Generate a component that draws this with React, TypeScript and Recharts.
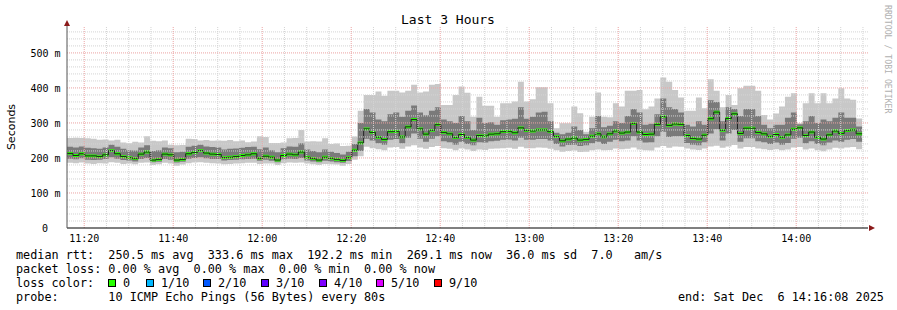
import React from 'react';
import { ComposedChart, Area, Line, XAxis, YAxis, ReferenceLine } from 'recharts';

// one sample every 80 s, 3 hours ending Sat Dec 6 14:16:08 2025
const STEP = 80;
const SPAN = 10800;
const Y_MAX = 574;

// median rtt (ms) per step
const median = [
  213, 207, 212, 206, 206, 204, 209, 221, 212, 204, 201, 198, 211, 217, 194, 196, 211, 209, 194, 196, 212, 216, 221, 214, 211, 210, 201, 202, 204, 207, 209, 212, 199, 205,
  202, 194, 207, 211, 209, 217, 202, 198, 194, 202, 199, 196, 193, 201, 222, 243, 283, 273, 259, 253, 275, 276, 260, 289, 310, 283, 268, 279, 295, 273, 269, 258, 267, 258,
  251, 264, 263, 268, 269, 275, 276, 272, 286, 278, 277, 280, 280, 275, 261, 249, 254, 257, 251, 253, 262, 269, 260, 269, 277, 271, 274, 298, 274, 267, 268, 296, 318, 293,
  297, 296, 264, 256, 254, 265, 312, 331, 279, 313, 326, 270, 285, 285, 273, 269, 261, 267, 259, 266, 282, 286, 264, 274, 259, 254, 266, 277, 270, 278, 280, 269,
];

// fastest ping per step
const minRtt = [
  186, 185, 187, 184, 183, 185, 184, 188, 186, 183, 184, 182, 186, 187, 180, 182, 186, 184, 178, 181, 185, 187, 188, 186, 185, 184, 182, 183, 184, 185, 186, 186, 183, 184,
  184, 180, 185, 187, 186, 187, 184, 182, 180, 183, 182, 181, 178, 183, 195, 205, 232, 228, 225, 222, 230, 231, 226, 233, 236, 230, 226, 231, 234, 228, 226, 222, 227, 224,
  220, 224, 223, 226, 227, 228, 229, 226, 232, 228, 228, 230, 229, 226, 222, 218, 220, 221, 217, 218, 222, 224, 222, 223, 227, 225, 226, 230, 224, 222, 221, 230, 234, 229,
  233, 232, 227, 224, 223, 227, 233, 235, 229, 233, 237, 227, 231, 231, 227, 225, 223, 225, 222, 224, 230, 231, 224, 227, 222, 219, 224, 229, 227, 230, 231, 225,
];

// lower edge of the dense smoke
const lowSmoke = [
  198, 196, 199, 195, 194, 195, 197, 202, 198, 194, 193, 190, 197, 200, 188, 189, 197, 195, 187, 189, 198, 200, 202, 199, 197, 197, 193, 194, 195, 196, 197, 198, 192, 195,
  192, 188, 196, 198, 197, 200, 193, 190, 188, 192, 190, 188, 186, 191, 205, 220, 255, 250, 242, 238, 252, 254, 242, 258, 270, 255, 246, 255, 262, 248, 245, 238, 246, 240,
  236, 245, 244, 248, 249, 252, 253, 250, 258, 252, 252, 254, 254, 250, 240, 233, 237, 238, 234, 236, 242, 246, 240, 246, 252, 248, 250, 262, 250, 244, 245, 262, 275, 260,
  262, 262, 243, 238, 236, 245, 270, 282, 250, 270, 280, 246, 256, 256, 248, 245, 240, 244, 238, 243, 255, 258, 242, 248, 240, 236, 244, 250, 246, 252, 254, 246,
];

// upper edge of the dense smoke
const highSmoke = [
  232, 230, 233, 229, 228, 226, 230, 238, 232, 226, 222, 221, 230, 236, 220, 222, 230, 228, 216, 218, 232, 235, 238, 233, 231, 230, 224, 226, 227, 229, 231, 232, 225, 230,
  222, 216, 228, 233, 232, 242, 224, 220, 216, 224, 218, 214, 210, 218, 240, 300, 340, 330, 310, 305, 325, 330, 318, 335, 350, 330, 322, 335, 345, 310, 305, 300, 320, 305,
  280, 315, 300, 302, 295, 308, 310, 312, 345, 312, 318, 330, 332, 305, 272, 268, 272, 290, 280, 268, 285, 320, 288, 292, 305, 300, 320, 340, 330, 295, 298, 325, 370, 345,
  340, 330, 295, 290, 305, 295, 365, 360, 305, 345, 340, 320, 340, 340, 320, 295, 285, 295, 295, 315, 330, 296, 305, 320, 300, 310, 305, 315, 330, 315, 315, 290,
];

// slowest ping per step
const maxRtt = [
  257, 258, 257, 256, 255, 252, 253, 250, 252, 244, 242, 246, 244, 262, 249, 248, 250, 238, 236, 237, 255, 254, 250, 251, 249, 250, 249, 251, 248, 250, 245, 247, 262, 260,
  243, 243, 244, 256, 257, 280, 247, 248, 247, 256, 240, 241, 234, 235, 261, 335, 380, 380, 390, 378, 392, 392, 387, 392, 409, 387, 390, 409, 411, 351, 351, 380, 404, 386,
  318, 375, 349, 349, 318, 356, 356, 361, 418, 361, 368, 402, 402, 356, 285, 299, 299, 347, 328, 275, 318, 387, 318, 316, 356, 347, 392, 392, 394, 339, 347, 370, 430, 418,
  394, 373, 335, 335, 373, 342, 425, 392, 345, 380, 351, 399, 406, 406, 392, 323, 310, 327, 347, 375, 385, 299, 356, 385, 356, 385, 356, 370, 399, 370, 366, 313,
];

// seconds after 11:16:08
const xTicks = [232, 1432, 2632, 3832, 5032, 6232, 7432, 8632, 9832];
const xTickLabels = ['11:20', '11:40', '12:00', '12:20', '12:40', '13:00', '13:20', '13:40', '14:00'];
const yTicks = [0, 100, 200, 300, 400, 500];
const yTickLabels = ['0', '100 m', '200 m', '300 m', '400 m', '500 m'];

const lossColors = [
  { label: '0', color: '#26ff00' },
  { label: '1/10', color: '#00b8ff' },
  { label: '2/10', color: '#0059ff' },
  { label: '3/10', color: '#5e00ff' },
  { label: '4/10', color: '#7e00ff' },
  { label: '5/10', color: '#dd00ff' },
  { label: '9/10', color: '#ff0000' },
];
const lossBoxX = [108, 146, 203, 261, 319, 376, 434];

const legendLines = [
  'median rtt:  250.5 ms avg  333.6 ms max  192.2 ms min  269.1 ms now  36.0 ms sd  7.0   am/s',
  'packet loss: 0.00 % avg  0.00 % max  0.00 % min  0.00 % now',
  'loss color:',
  'probe:       10 ICMP Echo Pings (56 Bytes) every 80s',
];

const rows = median.map((m, i) => ({
  t: i * STEP,
  median: m,
  min: minRtt[i],
  low: lowSmoke[i],
  high: highSmoke[i],
  max: maxRtt[i],
}));
// close the last step
rows.push({ ...rows[rows.length - 1], t: rows.length * STEP });

const yMinor: number[] = [];
for (let v = 20; v < Y_MAX; v += 20) if (v % 100 !== 0) yMinor.push(v);
const xMinor: number[] = [];
for (let k = 1; 232 + k * 300 < SPAN; k++) if (k % 4 !== 0) xMinor.push(232 + k * 300);

const MONO = '"DejaVu Sans Mono", monospace';
const MINOR = '#d4d4d4';
const MAJOR = '#eba3a3';

const XTick = (props: any) => {
  const i = xTicks.indexOf(props.payload.value);
  return (
    <text x={props.x} y={props.y + 13.5} textAnchor="middle" fontFamily={MONO} fontSize={10} fill="#000">
      {xTickLabels[i]}
    </text>
  );
};

const YTick = (props: any) => {
  const i = yTicks.indexOf(props.payload.value);
  const x = props.payload.value === 0 ? props.x - 19 : props.x - 6.5;
  return (
    <text x={x} y={props.y + 3.6} textAnchor="end" fontFamily={MONO} fontSize={10} fill="#000">
      {yTickLabels[i]}
    </text>
  );
};

export default function App() {
  return (
    <div style={{ position: 'absolute', left: 0, top: 0, width: 897, height: 310, background: '#fff', overflow: 'hidden' }}>
      <ComposedChart width={897} height={310} data={rows} margin={{ top: 27, right: 29, bottom: 66, left: 0 }}>
        <XAxis
          dataKey="t"
          type="number"
          domain={[0, SPAN]}
          ticks={xTicks}
          tick={XTick}
          tickLine={false}
          tickSize={0}
          tickMargin={0}
          height={16}
          axisLine={{ stroke: '#000' }}
          allowDataOverflow
        />
        <YAxis
          type="number"
          domain={[0, Y_MAX]}
          ticks={yTicks}
          tick={YTick}
          tickLine={false}
          tickSize={0}
          tickMargin={0}
          width={67}
          axisLine={{ stroke: '#555' }}
          allowDataOverflow
        />
        <Area type="stepAfter" dataKey={(d: any) => [d.min, d.max]} stroke="none" fill="#c8c8c8" fillOpacity={1} dot={false} activeDot={false} isAnimationActive={false} />
        <Area type="stepAfter" dataKey={(d: any) => [d.low, d.high]} stroke="none" fill="#7a7a7a" fillOpacity={1} dot={false} activeDot={false} isAnimationActive={false} />
        <Line type="stepAfter" dataKey="median" stroke="#202020" strokeWidth={1} dot={false} activeDot={false} isAnimationActive={false} />
        <Area type="stepAfter" dataKey={(d: any) => [d.median - 4, d.median + 4]} stroke="none" fill="#26ff00" fillOpacity={1} dot={false} activeDot={false} isAnimationActive={false} />
        {yMinor.map((v) => (
          <ReferenceLine key={'ym' + v} y={v} stroke={MINOR} strokeDasharray="1 1" />
        ))}
        {xMinor.map((v) => (
          <ReferenceLine key={'xm' + v} x={v} stroke={MINOR} strokeDasharray="1 1" />
        ))}
        {yTicks.slice(1).map((v) => (
          <ReferenceLine key={'yM' + v} y={v} stroke={MAJOR} strokeDasharray="1 1" />
        ))}
        {xTicks.map((v) => (
          <ReferenceLine key={'xM' + v} x={v} stroke={MAJOR} strokeDasharray="1 1" />
        ))}
      </ComposedChart>
      <svg width={897} height={310} style={{ position: 'absolute', left: 0, top: 0, pointerEvents: 'none' }}>
        <line x1={67} y1={27} x2={67} y2={22} stroke="#555" />
        <polygon points="64,26 70,26 67,20" fill="#8b1a1a" />
        <polygon points="869,225 869,231 875,228" fill="#8b1a1a" />
        <text x={448} y={24} textAnchor="middle" fontFamily={MONO} fontSize={13} fill="#000">
          Last 3 Hours
        </text>
        <text transform="translate(15,127) rotate(-90)" textAnchor="middle" fontFamily='"DejaVu Sans", sans-serif' fontSize={11} fill="#000">
          Seconds
        </text>
        <text transform="translate(885,5) rotate(90)" fontFamily={MONO} fontSize={8.2} fill="#b0b0b0">
          RRDTOOL / TOBI OETIKER
        </text>
        {legendLines.map((s, i) => (
          <text key={i} x={16} y={258.5 + i * 14} fontFamily={MONO} fontSize={11.8} fill="#000" xmlSpace="preserve" style={{ whiteSpace: 'pre' }}>
            {s}
          </text>
        ))}
        {lossColors.map((c, i) => (
          <g key={c.label}>
            <rect x={lossBoxX[i] + 0.5} y={279.5} width={7} height={7} fill={c.color} stroke="#000" />
            <text x={lossBoxX[i] + 15} y={286.5} fontFamily={MONO} fontSize={11.8} fill="#000">
              {c.label}
            </text>
          </g>
        ))}
        <text x={678} y={300.5} fontFamily={MONO} fontSize={11.8} fill="#000" xmlSpace="preserve" style={{ whiteSpace: 'pre' }}>
          {'end: Sat Dec  6 14:16:08 2025'}
        </text>
      </svg>
    </div>
  );
}
